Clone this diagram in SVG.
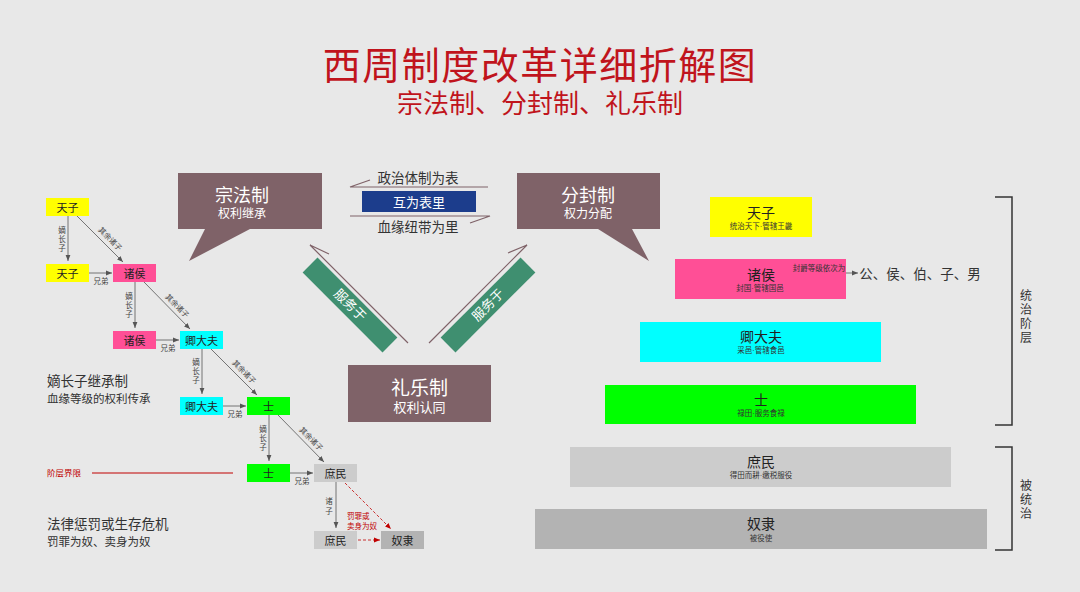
<svg xmlns="http://www.w3.org/2000/svg" width="1080" height="592" viewBox="0 0 1080 592">
<defs>
<style>
text{font-family:"Liberation Sans","Noto Sans CJK SC","Noto Sans CJK JP",sans-serif;}
.c{text-anchor:middle;dominant-baseline:central;}
.v{writing-mode:vertical-rl;text-anchor:middle;font-family:"Noto Sans CJK SC","Noto Sans CJK JP",sans-serif;}
.bx{font-size:11px;fill:#222;}
.lbl{font-size:7.5px;fill:#444;}
.rl{font-size:7.5px;fill:#c00000;}
.ln{stroke:#555;stroke-width:0.8;fill:none;}
.rd{stroke:#c00000;stroke-width:0.8;fill:none;stroke-dasharray:3 2;}
.mv{fill:#7f6268;}
.gb{fill:#3f8f70;}
.pt{font-size:14px;fill:#222;}
.ps{font-size:7.5px;fill:#333;}
.side{font-size:12px;fill:#333;letter-spacing:2px;}
</style>
<marker id="ah" viewBox="0 0 10 10" refX="10" refY="5" markerWidth="6" markerHeight="6" markerUnits="userSpaceOnUse" orient="auto"><path d="M0,1 L10,5 L0,9 z" fill="#555"/></marker>
<marker id="ahr" viewBox="0 0 10 10" refX="10" refY="5" markerWidth="6" markerHeight="6" markerUnits="userSpaceOnUse" orient="auto"><path d="M0,1 L10,5 L0,9 z" fill="#c00000"/></marker>
</defs>
<rect width="1080" height="592" fill="#e8e8e8"/>

<g id="title">
<text x="540" y="79" text-anchor="middle" font-size="38" fill="#c0141c" letter-spacing="1.5">西周制度改革详细折解图</text>
<text x="540" y="113" text-anchor="middle" font-size="26" fill="#c0141c">宗法制、分封制、礼乐制</text>
</g>

<!-- Left tree -->
<g id="t-tianzi0"><rect x="46" y="198" width="43" height="18" fill="#ffff00"/><text class="c bx" x="67.5" y="207.5">天子</text></g>
<g id="t-tianzi1"><rect x="46" y="264" width="43" height="18" fill="#ffff00"/><text class="c bx" x="67.5" y="273.5">天子</text></g>
<g id="t-zhuhou1"><rect x="113" y="264" width="43" height="18" fill="#ff4f96"/><text class="c bx" x="134.5" y="273.5">诸侯</text></g>
<g id="t-zhuhou2"><rect x="113" y="331" width="43" height="18" fill="#ff4f96"/><text class="c bx" x="134.5" y="340.5">诸侯</text></g>
<g id="t-qing2"><rect x="180" y="331" width="43" height="18" fill="#00ffff"/><text class="c bx" x="201.5" y="340.5">卿大夫</text></g>
<g id="t-qing3"><rect x="180" y="397" width="43" height="18" fill="#00ffff"/><text class="c bx" x="201.5" y="406.5">卿大夫</text></g>
<g id="t-shi3"><rect x="247" y="397" width="43" height="18" fill="#00ff00"/><text class="c bx" x="268.5" y="406.5">士</text></g>
<g id="t-shi4"><rect x="247" y="464" width="43" height="18" fill="#00ff00"/><text class="c bx" x="268.5" y="473.5">士</text></g>
<g id="t-shumin4"><rect x="314" y="464" width="43" height="18" fill="#cccccc"/><text class="c bx" x="335.5" y="473.5">庶民</text></g>
<g id="t-shumin5"><rect x="314" y="531" width="43" height="18" fill="#cccccc"/><text class="c bx" x="335.5" y="540.5">庶民</text></g>
<g id="t-nuli5"><rect x="381" y="531" width="43" height="18" fill="#b3b3b3"/><text class="c bx" x="402.5" y="540.5">奴隶</text></g>

<g id="connectors">
<line class="ln" x1="68" y1="216" x2="68" y2="261" marker-end="url(#ah)"/>
<line class="ln" x1="135" y1="282" x2="135" y2="328" marker-end="url(#ah)"/>
<line class="ln" x1="202" y1="349" x2="202" y2="394" marker-end="url(#ah)"/>
<line class="ln" x1="269" y1="415" x2="269" y2="461" marker-end="url(#ah)"/>
<line class="ln" x1="336" y1="482" x2="336" y2="528" marker-end="url(#ah)"/>
<line class="ln" x1="77" y1="216" x2="123" y2="262" marker-end="url(#ah)"/>
<line class="ln" x1="144" y1="282" x2="190" y2="329" marker-end="url(#ah)"/>
<line class="ln" x1="211" y1="349" x2="257" y2="395" marker-end="url(#ah)"/>
<line class="ln" x1="278" y1="415" x2="324" y2="462" marker-end="url(#ah)"/>
<line class="ln" x1="89" y1="273" x2="112" y2="273" marker-end="url(#ah)"/>
<line class="ln" x1="156" y1="340" x2="179" y2="340" marker-end="url(#ah)"/>
<line class="ln" x1="223" y1="406" x2="246" y2="406" marker-end="url(#ah)"/>
<line class="ln" x1="290" y1="473" x2="313" y2="473" marker-end="url(#ah)"/>
<line class="rd" x1="345" y1="483" x2="391" y2="529" marker-end="url(#ahr)"/>
<line class="rd" x1="358" y1="540" x2="380" y2="540" marker-end="url(#ahr)"/>
<line x1="92" y1="473" x2="233" y2="473" stroke="#c00000" stroke-width="1.2"/>
<polyline points="488,187 350,187 370,180" fill="none" stroke="#7f6268" stroke-width="1.2"/>
<polyline points="350,216 490,216 470,223" fill="none" stroke="#7f6268" stroke-width="1.2"/>
<polyline points="408,343 310,245 329,254" fill="none" stroke="#7f6268" stroke-width="1.2"/>
<polyline points="429,343 527,245 508,253" fill="none" stroke="#7f6268" stroke-width="1.2"/>
<line class="ln" x1="779" y1="273" x2="858" y2="273" marker-end="url(#ah)"/>
<polyline points="995,197 1012,197 1012,425 995,425" fill="none" stroke="#333" stroke-width="1.5"/>
<polyline points="995,447 1012,447 1012,550 995,550" fill="none" stroke="#333" stroke-width="1.5"/>
</g>

<g id="tree-labels">
<text class="v lbl" x="62" y="240" letter-spacing="1.5">嫡长子</text>
<text class="v lbl" x="129" y="306" letter-spacing="1.5">嫡长子</text>
<text class="v lbl" x="196" y="372" letter-spacing="1.5">嫡长子</text>
<text class="v lbl" x="263" y="439" letter-spacing="1.5">嫡长子</text>
<text class="v lbl" x="329" y="507" letter-spacing="2.5">诸子</text>
<text class="c lbl" transform="translate(110,239) rotate(45)">其余诸子</text>
<text class="c lbl" transform="translate(177,306) rotate(45)">其余诸子</text>
<text class="c lbl" transform="translate(244,372) rotate(45)">其余诸子</text>
<text class="c lbl" transform="translate(311,439) rotate(45)">其余诸子</text>
<text class="c lbl" x="101" y="281">兄弟</text>
<text class="c lbl" x="168" y="348">兄弟</text>
<text class="c lbl" x="235" y="414">兄弟</text>
<text class="c lbl" x="302" y="481">兄弟</text>
<text class="rl" x="347" y="519">罚罪或<tspan x="347" dy="10">卖身为奴</tspan></text>
</g>

<g id="left-notes">
<text x="47" y="386" font-size="13.5" fill="#333">嫡长子继承制</text>
<text x="47" y="403" font-size="11.5" fill="#333">血缘等级的权利传承</text>
<text x="47" y="476" font-size="8.5" fill="#c00000">阶层界限</text>
<text x="47" y="529" font-size="13.5" fill="#333">法律惩罚或生存危机</text>
<text x="47" y="546" font-size="11.5" fill="#333">罚罪为奴、卖身为奴</text>
</g>

<g id="zongfa">
<path class="mv" d="M178,173 H322 V229 H250 L189,261 L205,229 H178 Z"/>
<text class="c" fill="#fff"><tspan x="242" y="195.5" font-size="18">宗法制</tspan><tspan x="242" y="213.5" font-size="12">权利继承</tspan></text>
</g>
<g id="fenfeng">
<path class="mv" d="M517,173 H660 V229 H632 L649,261 L598,229 H517 Z"/>
<text class="c" fill="#fff"><tspan x="588" y="195.5" font-size="18">分封制</tspan><tspan x="588" y="213.5" font-size="12">权力分配</tspan></text>
</g>
<g id="biaoli">
<text class="c" x="418" y="178.5" font-size="13.5" fill="#333">政治体制为表</text>
<rect x="362" y="191" width="114" height="21" fill="#1c3d8c"/>
<text class="c" x="419" y="202.5" font-size="13" fill="#fff">互为表里</text>
<text class="c" x="418" y="227.5" font-size="13.5" fill="#333">血缘纽带为里</text>
</g>
<g id="band-left">
<rect class="gb" x="-56.5" y="-10.5" width="113" height="21" transform="translate(350,305) rotate(45)"/>
<text class="c" font-size="13" fill="#fff" transform="translate(350,305) rotate(45)">服务于</text>
</g>
<g id="band-right">
<rect class="gb" x="-56.5" y="-10.5" width="113" height="21" transform="translate(488,305) rotate(-45)"/>
<text class="c" font-size="13" fill="#fff" transform="translate(488,305) rotate(-45)">服务于</text>
</g>
<g id="liyue">
<rect class="mv" x="348" y="365" width="143" height="57"/>
<text class="c" fill="#fff"><tspan x="419.5" y="388" font-size="19">礼乐制</tspan><tspan x="419.5" y="407" font-size="13">权利认同</tspan></text>
</g>

<g id="p-tianzi"><rect x="710" y="197" width="102" height="40" fill="#ffff00"/><text class="c"><tspan class="pt" x="761" y="212.5">天子</tspan><tspan class="ps" x="761" y="225.5">统治天下·管辖王畿</tspan></text></g>
<g id="p-zhuhou"><rect x="675" y="259" width="171" height="40" fill="#ff4f96"/><text class="c"><tspan class="pt" x="761" y="274.5" font-size="15">诸侯</tspan><tspan class="ps" x="760" y="287.5">封国·管辖国邑</tspan></text></g>
<g id="p-jue"><text class="c ps" x="819" y="268">封爵等级依次为</text><text class="c" x="920" y="274.5" font-size="13.5" fill="#333">公、侯、伯、子、男</text></g>
<g id="p-qing"><rect x="640" y="322" width="241" height="40" fill="#00ffff"/><text class="c"><tspan class="pt" x="761" y="337">卿大夫</tspan><tspan class="ps" x="761" y="350">采邑·管辖食邑</tspan></text></g>
<g id="p-shi"><rect x="605" y="385" width="311" height="39" fill="#00ff00"/><text class="c"><tspan class="pt" x="761" y="399.5">士</tspan><tspan class="ps" x="761" y="412.5">禄田·服务食禄</tspan></text></g>
<g id="p-shumin"><rect x="570" y="447" width="381" height="40" fill="#cccccc"/><text class="c"><tspan class="pt" x="761" y="461.5">庶民</tspan><tspan class="ps" x="761" y="474.5">得田而耕·缴税服役</tspan></text></g>
<g id="p-nuli"><rect x="535" y="509" width="452" height="40" fill="#b3b3b3"/><text class="c"><tspan class="pt" x="761" y="523.5">奴隶</tspan><tspan class="ps" x="761" y="537.5">被役使</tspan></text></g>

<g id="side-labels">
<text class="v side" x="1026" y="317">统治阶层</text>
<text class="v side" x="1026" y="500">被统治</text>
</g>
</svg>
